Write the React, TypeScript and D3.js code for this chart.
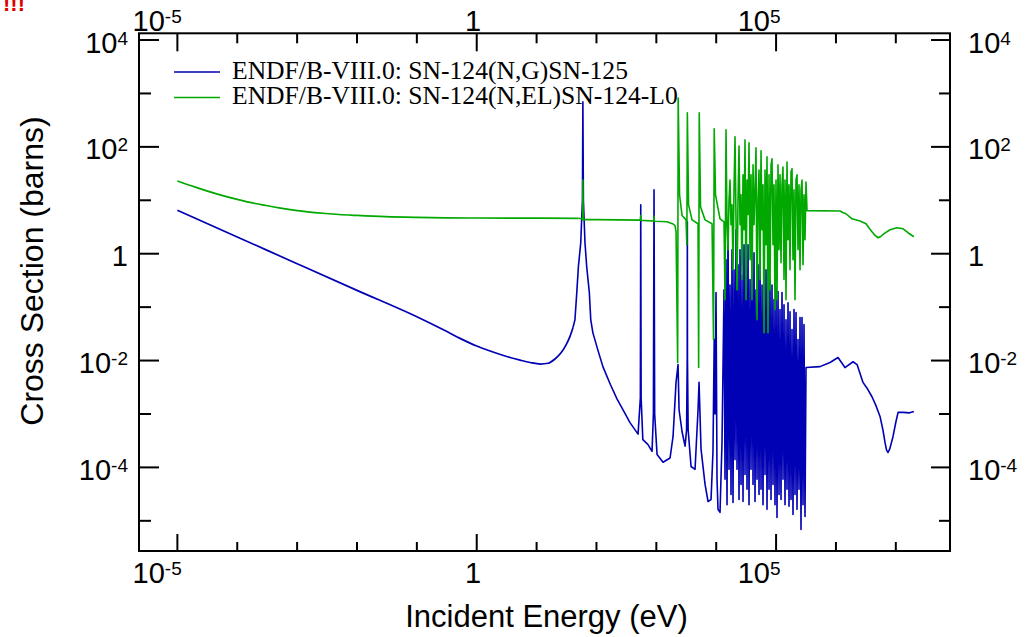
import React from 'react';
import * as d3 from 'd3';

// ---- axis ticks ----
const xMajorExp = [-5, 0, 5];
const xMinorExp = [-4, -3, -2, -1, 1, 2, 3, 4, 6, 7];
const yMajorExp = [-4, -2, 0, 2, 4];
const yMinorExp = [-5, -3, -1, 1, 3];

const legendLabels = [
  'ENDF/B-VIII.0: SN-124(N,G)SN-125',
  'ENDF/B-VIII.0: SN-124(N,EL)SN-124-L0',
];

// ---- SN-124(n,g): [energy eV, cross section barns] ----
const ngThermal: number[][] = [
  [1e-5, 6.5], [1e-4, 2.06], [1e-3, 0.65], [1e-2, 0.206], [0.1, 0.066], [0.3, 0.036], [0.526, 0.026],
  [1, 0.0187], [1.67, 0.0151], [2.97, 0.0122], [5.3, 0.0102], [7.8, 0.0092], [11.5, 0.0086],
  [15.6, 0.0089], [20.3, 0.0107], [25.4, 0.0138], [30.9, 0.0195], [36.3, 0.0287], [40.7, 0.042],
];
const ngResolved: number[][] = [
  [43.7, 0.058], [46.9, 0.187], [49.9, 0.57], [54.6, 1.6], [58.3, 10], [59.3, 700], [60.5, 10],
  [64.3, 1.6], [68.7, 0.57], [76, 0.187], [80.3, 0.058], [87.2, 0.033], [105, 0.016], [128, 0.0077],
  [170, 0.0036], [221, 0.0019], [290, 0.0011], [363, 6.9e-4], [495, 4.2e-4], [541, 0.002], [549, 8.2], [557, 0.002],
  [595, 3.3e-4], [721, 2.7e-4], [848, 2.0e-4], [893, 1e-3], [915, 15.7], [938, 1e-3],
  [1028, 1.75e-4], [1295, 1.25e-4], [1694, 1.5e-4], [1902, 3.8e-4], [2133, 0.0039],
  [2305, 0.0084], [2396, 0.0012], [2688, 4.7e-4], [3017, 2.5e-4], [3200, 5e-4], [3280, 0.011],
  [3296, 3.96], [3312, 0.011], [3400, 5e-4], [3801, 1.04e-4], [4431, 9.2e-5], [4973, 1.2e-3],
  [5169, 0.0039], [5581, 2.2e-4], [6512, 4.8e-5], [7305, 2.3e-5], [8200, 2.5e-5], [8837, 2e-4],
  [9262, 0.025], [9553, 1e-3], [9927, 0.187], [10317, 6e-5], [10721, 1.64e-5], [11580, 1.44e-5],
  [12504, 3e-4],
];
const ngDense: number[][] = [
  [13504, 0.21], [14033, 6.0e-5], [14583, 0.77], [15155, 2.0e-5], [15749, 3.96], [16367, 9.2e-5],
  [17009, 0.26], [17675, 3.1e-5], [18369, 1.19], [19088, 2.2e-5], [19837, 0.5], [20615, 1.4e-4],
  [21423, 2.81], [22263, 9.2e-5], [23136, 0.62], [24043, 2.5e-5], [24985, 1.19], [25965, 4.8e-5],
  [26983, 0.4], [28040, 2.3e-5], [29140, 1.47], [30283, 7.4e-5], [31469, 1.68], [32703, 3.9e-5],
  [33985, 1.47], [35318, 2.0e-5], [36703, 0.33], [38142, 9.2e-5], [39637, 0.77], [41191, 4.8e-5],
  [42806, 1.04], [44484, 2.3e-5], [46227, 0.21], [48040, 6.0e-5], [49924, 0.62], [51880, 3.1e-5],
  [53915, 0.77], [56028, 3.9e-5], [58225, 0.26], [60507, 2.0e-5], [62880, 0.5], [65344, 7.4e-5],
  [67906, 0.5], [70568, 1.64e-5], [73334, 0.171], [76210, 3.9e-5], [79197, 0.33], [82302, 2.5e-5],
  [85527, 0.26], [88881, 4.8e-5], [92365, 0.138], [95988, 2.0e-5], [99750, 0.23], [103661, 1.16e-5],
  [107724, 0.195], [111947, 3.1e-5], [116336, 0.09], [120896, 2.5e-5], [125635, 0.187], [130560, 6.0e-5],
  [135678, 0.111], [140997, 2.0e-5], [146525, 0.058], [152268, 3.9e-5], [158238, 0.121], [164439, 1.87e-5],
  [170886, 0.082], [177584, 2.5e-5], [184546, 0.038], [191780, 1.32e-5], [199298, 0.09], [207111, 3.1e-5],
  [215229, 0.079], [223666, 1.64e-5], [232434, 0.0247], [241546, 3.9e-5], [251015, 0.064], [260854, 6.9e-6],
  [271080, 0.064], [281706, 2.0e-5], [292749, 0.047], [304225, 1.21e-5],
];
const ngFast: number[][] = [
  [316150, 0.0074], [5.42e5, 0.0077], [7.96e5, 0.0092], [1.082e6, 0.0114], [1.416e6, 0.0074],
  [1.93e6, 0.0095], [2.254e6, 0.0084], [2.83e6, 0.0039], [3.4e6, 0.0029], [4.0e6, 0.0021],
  [4.7e6, 0.0014], [5.45e6, 9.0e-4], [6.1e6, 5.0e-4], [6.61e6, 2.9e-4], [7.0e6, 2.1e-4],
  [7.41e6, 1.9e-4], [7.9e6, 2.2e-4], [8.99e6, 3.8e-4], [1.0e7, 7.0e-4], [1.091e7, 1.07e-3],
  [1.325e7, 1.07e-3], [1.7e7, 1.05e-3], [2e7, 1.11e-3],
];

// ---- SN-124(n,el): [energy eV, cross section barns] ----
const elThermal: number[][] = [
  [1e-5, 23], [2e-5, 17.6], [3e-5, 15.2], [5e-5, 12.8], [1e-4, 10.4], [2e-4, 8.7], [3e-4, 8.0],
  [5e-4, 7.2], [1e-3, 6.4], [2e-3, 5.9], [3e-3, 5.66], [5e-3, 5.42], [1e-2, 5.2], [3e-2, 4.93],
  [0.1, 4.78], [0.3, 4.7], [1, 4.66], [10, 4.62], [50, 4.6],
];
const elResolved: number[][] = [
  [57, 4.5], [58.8, 4.3], [59.3, 24], [60, 4.4], [100, 4.35], [540, 4.25], [549, 5.2], [560, 4.2],
  [905, 4.1], [915, 5], [925, 4.05], [1509, 3.96], [1902, 3.6], [2053, 3.34], [2133, 2.58],
  [2270, 0.0092], [2316, 824], [2442, 12.7], [2688, 5.2], [3135, 4.3], [3233, 1.47], [3296, 432],
  [3452, 8.2], [3949, 4.3], [4973, 3.64], [5090, 0.0074], [5208, 432], [5474, 7.6], [6512, 4.3],
  [8523, 3.64], [9017, 0.0247], [9262, 217], [9738, 12.7], [11580, 4.5], [13504, 3.96],
];
const elDense: number[][] = [
  [14033, 0.138], [14583, 208], [15155, 3.48], [15749, 1.19], [16367, 10.2], [17009, 24],
  [17675, 3.48], [18369, 8.2], [19088, 0.5], [19837, 15.7], [20615, 154], [21423, 4.3],
  [22263, 0.21], [23136, 10.2], [24043, 104], [24985, 3.48], [25965, 12.7], [26983, 0.33],
  [28040, 30], [29140, 2.81], [30283, 135], [31469, 0.138], [32703, 24], [33985, 5.4],
  [35318, 119], [36703, 0.77], [38142, 30], [39637, 0.138], [41191, 46], [42806, 3.48],
  [44484, 15.7], [46227, 96], [48040, 0.058], [49924, 10.2], [51880, 37], [53915, 0.33],
  [56028, 84], [58225, 2.81], [60507, 19.5], [62880, 0.033], [65344, 37], [67906, 1.47],
  [70568, 65], [73334, 0.033], [76210, 30], [79197, 0.21], [82302, 46], [85527, 60],
  [88881, 1.47], [92365, 19.5], [95988, 0.09], [99750, 24], [103661, 0.138], [107724, 46],
  [111947, 1.19], [116336, 30], [120896, 0.68], [125635, 19.5], [130560, 42], [135678, 0.33],
  [140997, 24], [146525, 0.138], [152268, 52], [158238, 1.83], [164439, 19.5], [170886, 0.5],
  [177584, 34], [184546, 39], [191780, 0.77], [199298, 15.7], [207111, 0.138], [215229, 24],
  [223666, 30], [232434, 1.19], [241546, 19.5], [251015, 0.5], [260854, 15.7], [271080, 24],
  [281706, 0.62], [292749, 12.7], [304225, 1.83], [316150, 22],
];
const elFast: number[][] = [
  [328540, 6.4], [1.172e6, 6.3], [1.3e6, 5.9], [1.47e6, 5.6], [1.857e6, 4.5], [2.525e6, 4.1],
  [3.18e6, 3.64], [3.6e6, 3.0], [4.0e6, 2.58], [4.5e6, 2.2], [5.05e6, 1.99], [5.6e6, 2.1],
  [6.36e6, 2.37], [8.0e6, 2.81], [1.046e7, 3.06], [1.325e7, 2.93], [1.596e7, 2.47], [2e7, 2.08],
];

const BLUE = '#0000b4';
const GREEN = '#00a800';
const SANS = '"Liberation Sans", Arial, Helvetica, sans-serif';
const SERIF = '"Liberation Serif", "Times New Roman", Times, serif';

export default function App() {
  const L = 139, R = 950, T = 33.3, B = 551;
  const x = d3.scaleLog().domain([Math.pow(10, -5.641), Math.pow(10, 7.905)]).range([L, R]);
  const y = d3.scaleLog().domain([Math.pow(10, -5.565), Math.pow(10, 4.126)]).range([B, T]);
  const line = d3.line<number[]>().x(d => x(d[0])).y(d => y(d[1]));
  const smooth = d3.line<number[]>().x(d => x(d[0])).y(d => y(d[1])).curve(d3.curveMonotoneX);

  const blueSmooth = ngThermal;
  const blueRest = [ngThermal[ngThermal.length - 1], ...ngResolved, ...ngDense, ...ngFast];
  const greenSmooth = elThermal;
  const greenRest = [elThermal[elThermal.length - 1], ...elResolved, ...elDense, ...elFast];

  const renderLabel = (e: number, props: any, key: string) => (
    <text key={key} {...props} fontFamily={SANS} fontSize={29} fill="#000">
      {e === 0 ? '1' : (
        <>
          <tspan>10</tspan>
          <tspan dy={-8} fontSize={19}>{String(e)}</tspan>
        </>
      )}
    </text>
  );

  return (
    <svg width={1027} height={637} style={{ position: 'absolute', left: 0, top: 0, background: '#fff' }}>
      <defs>
        <clipPath id="plotclip">
          <rect x={L} y={T} width={R - L} height={B - T} />
        </clipPath>
      </defs>
      <rect x={0} y={0} width={1027} height={637} fill="#fff" />
      <text x={3} y={11} fontFamily={SANS} fontWeight="bold" fontSize={22} fill="#e00000">!!!</text>

      <g clipPath="url(#plotclip)" fill="none" strokeLinejoin="round">
        <path d={smooth(blueSmooth) || ''} stroke={BLUE} strokeWidth={1.7} />
        <path d={line(blueRest) || ''} stroke={BLUE} strokeWidth={1.6} />
        <path d={smooth(greenSmooth) || ''} stroke={GREEN} strokeWidth={1.7} />
        <path d={line(greenRest) || ''} stroke={GREEN} strokeWidth={1.6} />
      </g>

      {/* frame */}
      <rect x={L} y={T} width={R - L} height={B - T} fill="none" stroke="#000" strokeWidth={2} />

      {/* x ticks */}
      {xMajorExp.map(e => {
        const px = x(Math.pow(10, e));
        return (
          <g key={'xM' + e}>
            <line x1={px} x2={px} y1={B} y2={B - 17} stroke="#000" strokeWidth={2} />
            <line x1={px} x2={px} y1={T} y2={T + 18} stroke="#000" strokeWidth={2} />
          </g>
        );
      })}
      {xMinorExp.map(e => {
        const px = x(Math.pow(10, e));
        return (
          <g key={'xm' + e}>
            <line x1={px} x2={px} y1={B} y2={B - 9} stroke="#000" strokeWidth={2} />
            <line x1={px} x2={px} y1={T} y2={T + 10} stroke="#000" strokeWidth={2} />
          </g>
        );
      })}
      {/* y ticks */}
      {yMajorExp.map(e => {
        const py = y(Math.pow(10, e));
        return (
          <g key={'yM' + e}>
            <line x1={L} x2={L + 20} y1={py} y2={py} stroke="#000" strokeWidth={2} />
            <line x1={R} x2={R - 19} y1={py} y2={py} stroke="#000" strokeWidth={2} />
          </g>
        );
      })}
      {yMinorExp.map(e => {
        const py = y(Math.pow(10, e));
        return (
          <g key={'ym' + e}>
            <line x1={L} x2={L + 12} y1={py} y2={py} stroke="#000" strokeWidth={2} />
            <line x1={R} x2={R - 11} y1={py} y2={py} stroke="#000" strokeWidth={2} />
          </g>
        );
      })}

      {/* tick labels */}
      {xMajorExp.map(e => {
        const px = x(Math.pow(10, e)) + 4.4;
        return (
          <g key={'xl' + e}>
            {renderLabel(e, { x: px, y: 583.3, textAnchor: 'end' }, 'b' + e)}
            {renderLabel(e, { x: px, y: 30.7, textAnchor: 'end' }, 't' + e)}
          </g>
        );
      })}
      {yMajorExp.map(e => {
        const py = y(Math.pow(10, e)) + 12.5;
        return (
          <g key={'yl' + e}>
            {renderLabel(e, { x: 128, y: py, textAnchor: 'end' }, 'l' + e)}
            {renderLabel(e, { x: 968, y: py, textAnchor: 'start' }, 'r' + e)}
          </g>
        );
      })}

      {/* axis titles */}
      <text x={(L + R) / 2 + 2} y={627} textAnchor="middle" fontFamily={SANS} fontSize={31} fill="#000">
        Incident Energy (eV)
      </text>
      <text transform="translate(43,271) rotate(-90)" textAnchor="middle" fontFamily={SANS} fontSize={32} fill="#000">
        Cross Section (barns)
      </text>

      {/* legend */}
      {legendLabels.map((lab, i) => {
        const ly = 72 + i * 25.5;
        return (
          <g key={'lg' + i}>
            <line x1={174} x2={220} y1={ly} y2={ly} stroke={i === 0 ? BLUE : GREEN} strokeWidth={1.6} />
            <text x={232} y={ly + 6.5} fontFamily={SERIF} fontSize={25.6} fill="#000">{lab}</text>
          </g>
        );
      })}
    </svg>
  );
}
